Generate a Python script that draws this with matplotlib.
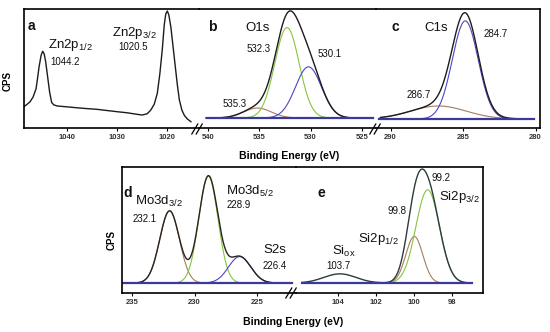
import numpy as np
import matplotlib
matplotlib.use("Agg")
import matplotlib.pyplot as plt
from matplotlib.lines import Line2D

plt.rcParams["font.family"] = ["Liberation Sans", "DejaVu Sans"]
plt.rcParams["mathtext.fontset"] = "custom"
plt.rcParams["mathtext.rm"] = "Liberation Sans"
plt.rcParams["mathtext.default"] = "regular"

W, H = 550, 332

# ---------------- data ----------------
# (a) Zn2p survey, measured line
zn_be = [1048.5, 1048.0, 1047.3, 1046.7, 1046.1, 1045.8, 1045.5, 1045.1, 1044.8, 1044.5,
         1044.2, 1043.8, 1043.4, 1043.0, 1042.6, 1041.9, 1040.0, 1038.0, 1036.0, 1034.0,
         1032.0, 1030.0, 1028.0, 1026.0, 1025.0, 1024.0, 1023.3, 1022.6, 1022.0, 1021.5,
         1021.0, 1020.6, 1020.3, 1020.0, 1019.7, 1019.3, 1018.9, 1018.4, 1018.0, 1017.6,
         1017.1, 1016.6, 1016.0, 1015.3]
zn_cps = [0.18, 0.195, 0.22, 0.26, 0.33, 0.42, 0.515, 0.61, 0.645, 0.625,
          0.56, 0.43, 0.30, 0.215, 0.195, 0.185, 0.178, 0.170, 0.163, 0.157,
          0.147, 0.137, 0.128, 0.115, 0.109, 0.12, 0.15, 0.20, 0.29, 0.45,
          0.66, 0.87, 0.96, 0.983, 0.95, 0.85, 0.70, 0.51, 0.36, 0.235,
          0.15, 0.105, 0.075, 0.053]

# fitted components: centre (eV), height, FWHM (eV)
o1s_center = [535.2, 532.3, 530.2]
o1s_height = [0.084, 0.76, 0.43]
o1s_fwhm = [3.2, 2.8, 3.0]
o1s_base = 0.084

c1s_center = [286.7, 284.85]
c1s_height = [0.109, 0.824]
c1s_fwhm = [4.5, 2.1]
c1s_base = 0.076

mo_center = [232.0, 228.9, 226.4]
mo_height = [0.573, 0.848, 0.21]
mo_fwhm = [1.85, 1.8, 2.1]
mo_base = 0.079

si_center = [103.9, 100.0, 99.3]      # Si_ox, Si2p1/2, Si2p3/2
si_height = [0.073, 0.37, 0.74]
si_fwhm = [2.0, 1.05, 1.45]
si_base = 0.079

zn_labels = ["Zn2p$_{1/2}$", "1044.2", "Zn2p$_{3/2}$", "1020.5"]
o1s_labels = ["O1s", "532.3", "530.1", "535.3"]
c1s_labels = ["C1s", "284.7", "286.7"]
mo_labels = ["Mo3d$_{3/2}$", "232.1", "Mo3d$_{5/2}$", "228.9", "S2s", "226.4"]
si_labels = ["Si$_{ox}$", "103.7", "Si2p$_{1/2}$", "99.8", "99.2", "Si2p$_{3/2}$"]

# ---------------- colours ----------------
BLACK = "#1c1c1c"
GREEN = "#86c440"
BLUE = "#4a46c8"
BROWN = "#a57d60"
BASE = "#3b3a9c"


def gauss(x, c, h, fwhm):
    s = fwhm / 2.3548
    return h * np.exp(-(x - c) ** 2 / (2 * s * s))


fig = plt.figure(figsize=(W / 100, H / 100), dpi=100)


def make_ax(x0, x1, y0, y1, xlim, ticks, spines):
    ax = fig.add_axes([x0 / W, 1 - y1 / H, (x1 - x0) / W, (y1 - y0) / H])
    ax.set_xlim(*xlim)
    ax.set_ylim(0, 1)
    ax.set_xticks(ticks)
    ax.set_yticks([])
    for side in ["left", "right", "top", "bottom"]:
        ax.spines[side].set_visible(side in spines)
        ax.spines[side].set_linewidth(1.2)
    ax.tick_params(axis="x", direction="out", length=2.5, width=0.8, pad=1.8,
                   labelsize=5.5, labelcolor="#333333")
    for t in ax.get_xticklabels():
        t.set_fontweight("bold")
    ax.patch.set_alpha(0)
    return ax


def draw_fit(ax, lo, hi, base_lo, base_hi, base, centers, heights, fwhms, colors, env):
    x = np.linspace(lo, hi, 400)
    total = np.full_like(x, base)
    for c, h, w, col in zip(centers, heights, fwhms, colors):
        y = gauss(x, c, h, w)
        total = total + y
        if col is not None:
            ax.plot(x, base + y, color=col, lw=0.8)
    ax.plot(x, total, color=env, lw=1.0)
    ax.plot([base_lo, base_hi], [base, base], color=BASE, lw=1.6)


def ftext(x, y, s, size=7, weight="normal", **kw):
    fig.text(x / W, 1 - y / H, s, fontsize=size, fontweight=weight,
             va="baseline", ha="left", color="#111111", **kw)


def brk(x, y):
    for dx in (-2.2, 2.2):
        fig.add_artist(Line2D([(x + dx - 3) / W, (x + dx + 3) / W],
                              [1 - (y + 5) / H, 1 - (y - 5) / H],
                              color="black", lw=0.9))


# ---------------- top row ----------------
ax_a = make_ax(24, 199, 9, 128, (1048.5, 1013.7), [1040, 1030, 1020], ["left", "top", "bottom"])
ax_a.plot(zn_be, zn_cps, color=BLACK, lw=1.0)

ax_b = make_ax(199, 376, 9, 128, (540.9, 523.6), [540, 535, 530, 525], ["top", "bottom"])
draw_fit(ax_b, 540.2, 524.3, 540.1, 523.9, o1s_base, o1s_center, o1s_height, o1s_fwhm,
         [BROWN, GREEN, BLUE], BLACK)

ax_c = make_ax(376, 540, 9, 128, (291.0, 279.7), [290, 285, 280], ["top", "bottom", "right"])
draw_fit(ax_c, 290.7, 280.2, 290.8, 280.1, c1s_base, c1s_center, c1s_height, c1s_fwhm,
         [BROWN, BLUE], BLACK)

brk(197, 129)
brk(375, 129)

# ---------------- bottom row ----------------
ax_d = make_ax(122, 296, 167, 293, (235.8, 221.9), [235, 230, 225], ["left", "top", "bottom"])
draw_fit(ax_d, 234.7, 222.6, 235.8, 222.2, mo_base, mo_center, mo_height, mo_fwhm,
         [BROWN, GREEN, BLUE], "#2a2420")

ax_e = make_ax(296, 483, 167, 293, (106.2, 96.4), [104, 102, 100, 98], ["top", "bottom", "right"])
draw_fit(ax_e, 105.9, 97.1, 105.9, 97.0, si_base, si_center, si_height, si_fwhm,
         [None, BROWN, GREEN], "#2c3b3e")

brk(291, 293)

# ---------------- texts ----------------
ftext(28, 30.5, "a", size=10, weight="bold")
ftext(48, 48, zn_labels[0], size=9.5)
ftext(50, 65, zn_labels[1], size=7)
ftext(112, 36, zn_labels[2], size=9.5)
ftext(118, 50, zn_labels[3], size=7)

ftext(208, 30.7, "b", size=10, weight="bold")
ftext(245, 30.7, o1s_labels[0], size=9.5)
ftext(246.5, 52.3, o1s_labels[1], size=7)
ftext(318, 56.7, o1s_labels[2], size=7)
ftext(223, 106.7, o1s_labels[3], size=7)

ftext(391.5, 30.7, "c", size=10, weight="bold")
ftext(424, 31.3, c1s_labels[0], size=9.5)
ftext(484, 36.7, c1s_labels[1], size=7)
ftext(407, 97.7, c1s_labels[2], size=7)

ftext(123, 196.7, "d", size=10, weight="bold")
ftext(135, 205, mo_labels[0], size=9.5)
ftext(133, 221.7, mo_labels[1], size=7)
ftext(226.5, 195, mo_labels[2], size=9.5)
ftext(226.5, 208.3, mo_labels[3], size=7)
ftext(263, 253.3, mo_labels[4], size=9.5)
ftext(263, 269.3, mo_labels[5], size=7)

ftext(318, 196.7, "e", size=10, weight="bold")
ftext(331.5, 255, si_labels[0], size=9.5)
ftext(326.5, 269.3, si_labels[1], size=7)
ftext(358, 241.7, si_labels[2], size=9.5)
ftext(388, 214, si_labels[3], size=7)
ftext(431, 180.7, si_labels[4], size=7)
ftext(439, 200, si_labels[5], size=9.5)

# axis titles
fig.text(8 / W, 1 - 81 / H, "CPS", rotation=90, fontsize=7, fontweight="bold",
         ha="center", va="center")
fig.text(112 / W, 1 - 240 / H, "CPS", rotation=90, fontsize=7, fontweight="bold",
         ha="center", va="center")
fig.text(289 / W, 1 - 156 / H, "Binding Energy (eV)", fontsize=7.6, fontweight="bold",
         ha="center", va="center")
fig.text(293 / W, 1 - 322 / H, "Binding Energy (eV)", fontsize=7.6, fontweight="bold",
         ha="center", va="center")

fig.savefig("out.png", dpi=100)
